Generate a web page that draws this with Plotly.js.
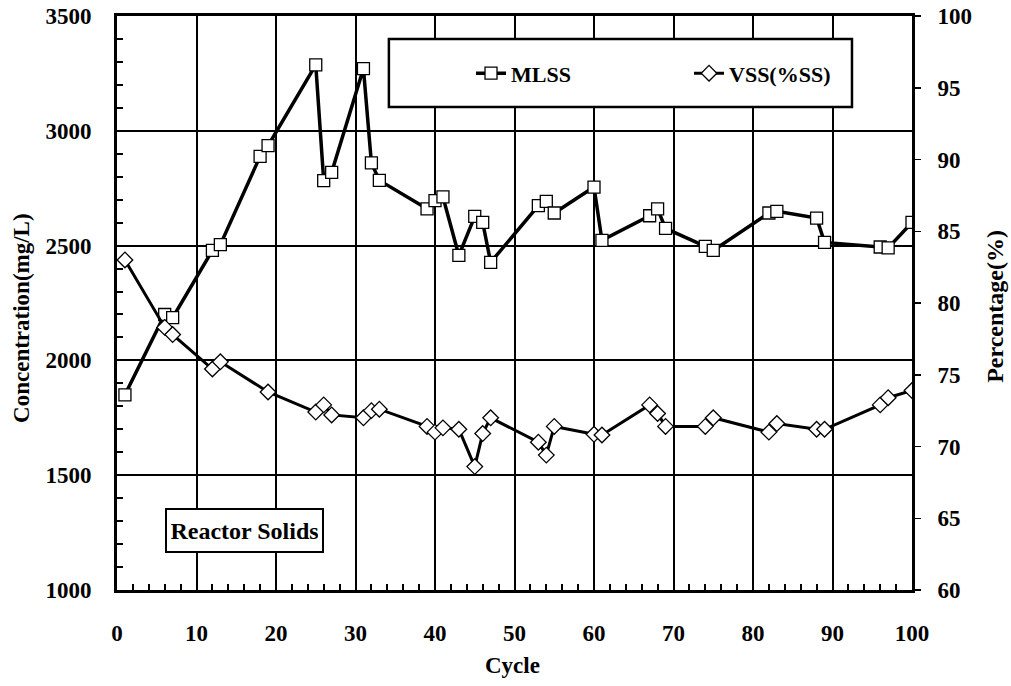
<!DOCTYPE html>
<html><head><meta charset="utf-8">
<script src="https://cdn.plot.ly/plotly-3.0.1.min.js"></script>
<style>body{margin:0;background:#fff}</style>
</head><body><div id="chart" style="width:1011px;height:686px"></div>
<script>
const mlssCycle = [1,6,7,12,13,18,19,25,26,27,31,32,33,39,40,41,43,45,46,47,53,54,55,60,61,67,68,69,74,75,82,83,88,89,96,97,100];
const mlssValue = [1850,2200,2186,2479,2504,2889,2935,3287,2783,2819,3271,2860,2784,2660,2696,2712,2457,2627,2601,2427,2674,2693,2642,2755,2523,2630,2660,2575,2497,2479,2642,2649,2620,2514,2494,2490,2601];
const vssCycle = [1,6,7,12,13,19,25,26,27,31,32,33,39,40,41,43,45,46,47,53,54,55,60,61,67,68,69,74,75,82,83,88,89,96,97,100];
const vssValue = [83.0,78.3,77.8,75.4,75.9,73.8,72.4,72.9,72.2,72.0,72.5,72.6,71.4,71.0,71.3,71.2,68.6,70.9,72.0,70.3,69.4,71.4,70.85,70.8,72.9,72.3,71.4,71.4,72.0,71.0,71.6,71.2,71.2,72.9,73.4,73.9];
const seriesNames = ['MLSS', 'VSS(%SS)'];
const axisTitles = {x: 'Cycle', y: 'Concentration(mg/L)', y2: 'Percentage(%)'};
const boxLabel = 'Reactor Solids';

const F = 'Liberation Serif, Times New Roman, serif';
const bold = (s) => ({family: F, size: s, color: '#000', weight: 'bold'});

const traces = [
  {x: vssCycle, y: vssValue, name: seriesNames[1], yaxis: 'y2', mode: 'lines+markers',
   line: {color: '#000', width: 3},
   marker: {symbol: 'diamond', size: 12, color: '#fff', line: {color: '#000', width: 1.3}}},
  {x: mlssCycle, y: mlssValue, name: seriesNames[0], mode: 'lines+markers',
   line: {color: '#000', width: 3.5},
   marker: {symbol: 'square', size: 12, color: '#fff', line: {color: '#000', width: 1.3}}}
];

const layout = {
  width: 1011, height: 686,
  margin: {l: 117, r: 99, t: 16, b: 96},
  paper_bgcolor: '#fff', plot_bgcolor: '#fff',
  showlegend: true,
  legend: {orientation: 'h', traceorder: 'reversed', x: 0.4453, y: 0.90, xanchor: 'left', yanchor: 'middle',
           bgcolor: 'rgba(0,0,0,0)', borderwidth: 0, font: bold(22),
           entrywidth: 173, entrywidthmode: 'pixels'},
  xaxis: {range: [0, 100], dtick: 10, showgrid: true, gridcolor: '#000', gridwidth: 2,
          showline: true, linecolor: '#000', linewidth: 3, mirror: true, zeroline: false,
          ticks: '', tickfont: bold(23), ticklabelstandoff: 20,
          minor: {dtick: 2, ticks: 'inside', ticklen: 6, tickwidth: 2, tickcolor: '#000', showgrid: false}},
  yaxis: {range: [1000, 3500], dtick: 500, showgrid: true, gridcolor: '#000', gridwidth: 2,
          showline: true, linecolor: '#000', linewidth: 3, zeroline: false,
          ticks: '', tickfont: bold(23), ticklabelstandoff: 18,
          minor: {dtick: 100, ticks: 'inside', ticklen: 6, tickwidth: 2, tickcolor: '#000', showgrid: false}},
  yaxis2: {range: [60, 100], dtick: 5, overlaying: 'y', side: 'right', showgrid: false,
           showline: true, linecolor: '#000', linewidth: 3, zeroline: false,
           ticks: 'outside', ticklen: 6, tickwidth: 1.5, tickcolor: '#000',
           tickfont: bold(23), ticklabelstandoff: 12},
  shapes: [
    {type: 'rect', xref: 'paper', yref: 'paper', x0: 0.342, x1: 0.9245, y0: 0.8415, y1: 0.96,
     line: {color: '#000', width: 2.5}, fillcolor: '#fff', layer: 'above'}
  ],
  annotations: [
    {text: boxLabel, xref: 'paper', yref: 'paper', x: 0.1604, y: 0.1037,
     xanchor: 'center', yanchor: 'middle', showarrow: false, font: bold(24),
     bordercolor: '#000', borderwidth: 2, borderpad: 4, bgcolor: '#fff', width: 147, height: 33},
    {text: axisTitles.x, xref: 'paper', yref: 'paper', x: 0.4975, y: -0.1307,
     xanchor: 'center', yanchor: 'middle', showarrow: false, font: bold(23)},
    {text: axisTitles.y, xref: 'paper', yref: 'paper', x: -0.1195, y: 0.474, textangle: -90,
     xanchor: 'center', yanchor: 'middle', showarrow: false, font: bold(23)},
    {text: axisTitles.y2, xref: 'paper', yref: 'paper', x: 1.1044, y: 0.495, textangle: -90,
     xanchor: 'center', yanchor: 'middle', showarrow: false, font: bold(24)}
  ]
};

Plotly.newPlot('chart', traces, layout, {displayModeBar: false, staticPlot: true});
</script>
</body></html>
